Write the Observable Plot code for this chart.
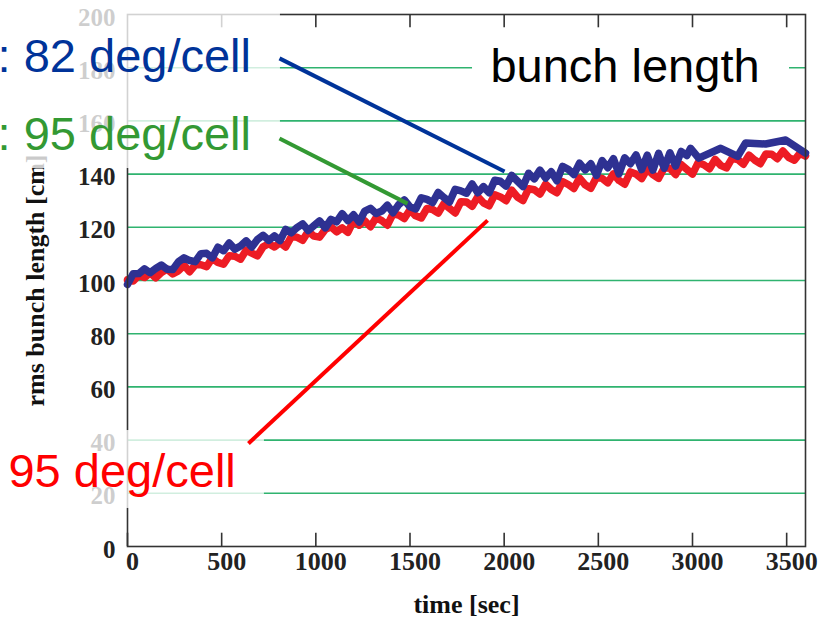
<!DOCTYPE html>
<html><head><meta charset="utf-8">
<script src="https://cdn.jsdelivr.net/npm/d3@7"></script>
<script src="https://cdn.jsdelivr.net/npm/@observablehq/plot@0.6"></script>
<style>html,body{margin:0;padding:0;background:#fff;} #chart{width:829px;height:620px;overflow:hidden}</style>
</head><body><div id="chart"></div>
<script>
// ---- data ----
const xTicks = [0, 500, 1000, 1500, 2000, 2500, 3000, 3500];
const yTicks = [0, 20, 40, 60, 80, 100, 120, 140, 160, 180, 200];
const gridValues = [20, 40, 60, 80, 100, 120, 140, 160, 180];

const blueTime = d3.range(0, 2761, 30).concat([2790, 2820, 2850, 2880, 2910, 2940, 2970, 2990, 3033, 3150, 3240, 3282, 3388, 3495, 3600]);
const blueValues = [
  98.5, 102.5, 102.6, 104.4, 102.9, 104.5, 105.8, 104.2, 104.1, 107.0,
  108.5, 107.5, 107.1, 110.1, 110.2, 108.5, 112.5, 111.2, 114.1, 111.8,
  113.0, 114.9, 112.6, 115.4, 117.0, 115.1, 116.8, 115.0, 119.2, 117.9,
  119.9, 121.3, 118.8, 120.6, 122.4, 119.8, 123.0, 122.0, 125.1, 122.5,
  124.7, 122.0, 126.1, 127.1, 125.2, 126.1, 128.3, 125.5, 128.5, 130.3,
  127.7, 126.9, 131.1, 130.5, 129.3, 133.1, 131.2, 129.5, 134.3, 133.7,
  132.8, 136.3, 133.0, 135.3, 133.0, 137.7, 137.3, 135.5, 139.5, 137.4,
  135.3, 140.3, 138.2, 141.5, 138.5, 140.9, 137.5, 142.9, 141.8, 139.8,
  144.1, 141.6, 143.9, 139.5, 145.1, 142.4, 145.8, 140.1, 146.1, 143.9,
  147.2, 141.7, 147.1,
  141.5, 147.8, 142.2, 148.0, 143.0, 148.5, 147.0, 149.7, 146.0, 149.7,
  146.7, 151.7, 151.3, 152.8, 147.9
];

const redTime = d3.range(0, 3601, 30);
const redValues = [
  100.3, 99.8, 101.9, 101.1, 102.9, 101.0, 103.0, 104.3, 102.5, 103.6,
  105.7, 103.3, 105.9, 105.9, 105.2, 108.4, 106.8, 106.1, 109.3, 109.1,
  108.0, 111.4, 110.3, 109.3, 112.7, 113.8, 112.6, 114.2, 112.6, 116.5,
  116.3, 115.1, 118.5, 116.7, 116.3, 119.2, 120.2, 118.3, 119.8, 118.1,
  122.4, 120.8, 122.4, 120.2, 123.6, 122.5, 120.8, 125.1, 124.6, 123.3,
  126.6, 124.3, 123.5, 127.1, 126.7, 125.4, 128.9, 127.1, 125.4, 129.6,
  129.5, 127.9, 131.5, 129.2, 128.1, 132.2, 131.4, 130.0, 134.0, 131.4,
  130.1, 134.5, 134.1, 132.5, 136.2, 134.2, 133.0, 137.2, 136.1, 134.6,
  138.5, 136.0, 134.7, 138.7, 138.4, 136.7, 140.1, 137.6, 136.2, 140.8,
  140.0, 138.3, 142.0, 139.8, 138.4, 142.4, 142.2, 139.8, 143.6, 141.8,
  140.0, 144.3, 143.5, 142.0, 145.5, 143.3, 142.3, 145.9, 145.5, 143.7,
  147.1, 145.3, 143.9, 147.6, 147.5, 145.8, 148.7, 146.3, 145.2, 147.8,
  146.8
];

const labelBlue = ": 82 deg/cell";
const labelGreen = ": 95 deg/cell";
const labelRed = "95 deg/cell";
const labelTitle = "bunch length";
const xTitle = "time [sec]";
const yTitle = "rms bunch length [cm]";

// ---- build tables ----
const blue = blueTime.map((t, i) => ({t, v: blueValues[i]})).filter(d => d.v != null);
const red = redTime.map((t, i) => ({t, v: redValues[i]})).filter(d => d.v != null);

const serif = "'Liberation Serif', 'Times New Roman', serif";
const sans = "'Liberation Sans', Arial, sans-serif";
const gridColor = "#2fb36f";
const axisColor = "#333333";

const chart = Plot.plot({
  width: 829,
  height: 620,
  marginLeft: 127,
  marginRight: 24,
  marginTop: 14,
  marginBottom: 74,
  x: {domain: [0, 3600]},
  y: {domain: [0, 200]},
  style: {fontFamily: serif, fontSize: "26px", background: "white", overflow: "visible"},
  marks: [
    Plot.ruleY(gridValues, {stroke: gridColor, strokeWidth: 1.6}),
    Plot.line(red, {x: "t", y: "v", stroke: "#ed1c24", strokeWidth: 7.5, strokeLinejoin: "round", strokeLinecap: "round"}),
    Plot.line(blue, {x: "t", y: "v", stroke: "#2e3192", strokeWidth: 7.5, strokeLinejoin: "round", strokeLinecap: "round"}),
    Plot.frame({stroke: axisColor, strokeWidth: 1.6}),
    Plot.ruleX(xTicks, {y1: 0, y2: 5, stroke: axisColor, strokeWidth: 1.6}),
    Plot.ruleX(xTicks.slice(1), {y1: 200, y2: 195, stroke: axisColor, strokeWidth: 1.6}),
    Plot.axisX({ticks: xTicks, tickFormat: d => String(d), tickSize: 0, tickPadding: 5, dx: 5, fontSize: 26, fontWeight: "bold", fontFamily: serif, fill: "#222", label: null}),
    Plot.axisY({ticks: yTicks, tickFormat: d => String(d), tickSize: 0, tickPadding: 12, dy: 3, fontSize: 25, fontWeight: "bold", fontFamily: serif, fill: "#222", label: null}),
    Plot.text([xTitle], {frameAnchor: "bottom", textAnchor: "middle", dy: 66, lineAnchor: "bottom", fontSize: 26, fontWeight: "bold", fontFamily: serif, fill: "#111"}),
    Plot.text([yTitle], {frameAnchor: "left", textAnchor: "middle", dx: -92, rotate: -90, fontSize: 26, fontWeight: "bold", fontFamily: serif, fill: "#111"}),
    // white label backgrounds
    Plot.rect([0], {x1: -674, x2: 812, y1: 142.1, y2: 205.3, fill: "white", fillOpacity: 0.78}),
    Plot.rect([0], {x1: -674, x2: 727, y1: 14.3, y2: 43.6, fill: "white", fillOpacity: 0.78}),
    Plot.rect([0], {x1: 1832, x2: 3515, y1: 167.7, y2: 194, fill: "white"}),
    // leader lines
    Plot.link([0], {x1: 807, y1: 183.5, x2: 2002, y2: 141, stroke: "#003399", strokeWidth: 4}),
    Plot.link([0], {x1: 807, y1: 153.4, x2: 1487, y2: 128.9, stroke: "#339933", strokeWidth: 4}),
    Plot.link([0], {x1: 642, y1: 38.7, x2: 1912, y2: 122.6, stroke: "#ff0000", strokeWidth: 4}),
    // labels
    Plot.text([labelBlue], {x: -690, y: 178.2, textAnchor: "start", lineAnchor: "bottom", fontSize: 47, fontFamily: sans, fill: "#003399"}),
    Plot.text([labelGreen], {x: -690, y: 149.2, textAnchor: "start", lineAnchor: "bottom", fontSize: 47, fontFamily: sans, fill: "#339933"}),
    Plot.text([labelRed], {x: -632, y: 22.2, textAnchor: "start", lineAnchor: "bottom", fontSize: 47, fontFamily: sans, fill: "#ff0000"}),
    Plot.text([labelTitle], {x: 1927, y: 174.8, textAnchor: "start", lineAnchor: "bottom", fontSize: 47, fontFamily: sans, fill: "#000"})
  ]
});
document.getElementById("chart").appendChild(chart);
</script></body></html>
